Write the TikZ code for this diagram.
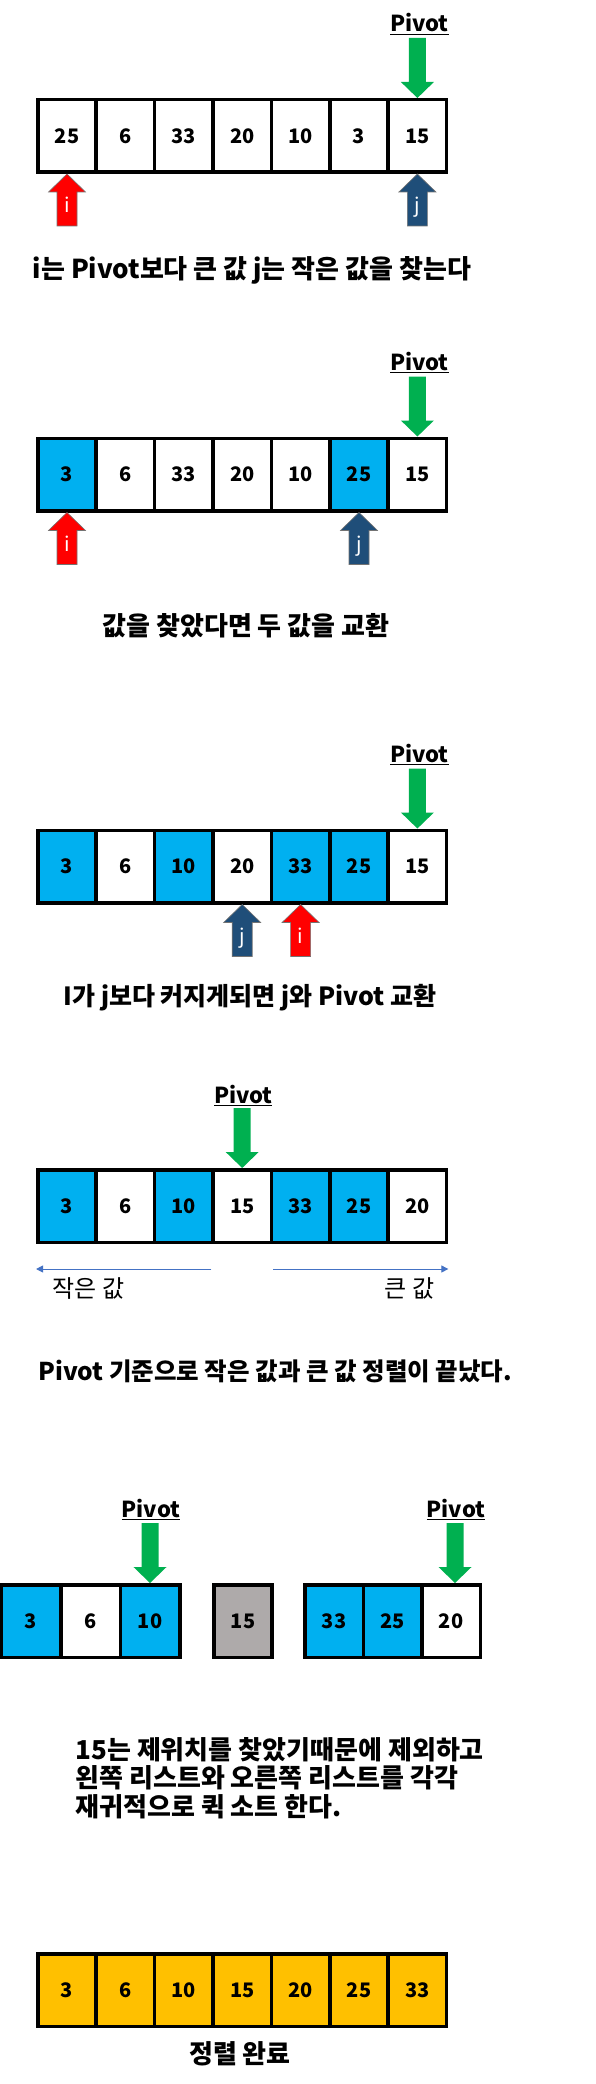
\documentclass[tikz,border=0pt]{standalone}
\usepackage{fontspec}
\setmainfont{Noto Sans CJK KR}
\usetikzlibrary{calc,arrows.meta}

\definecolor{cellblue}{HTML}{00B0F0}
\definecolor{pivgreen}{HTML}{00B050}
\definecolor{icol}{HTML}{FF0000}
\definecolor{jcol}{HTML}{1F4E79}
\definecolor{donegold}{HTML}{FFC000}
\definecolor{fixgray}{HTML}{AEAAAA}
\definecolor{lineblue}{HTML}{4472C4}

\tikzset{
  cell/.style={draw=black,line width=3.5pt,minimum width=58.4pt,minimum height=72.5pt,
    inner sep=0pt,font=\fontsize{20}{20}\selectfont\bfseries},
  wt/.style={cell,fill=white},
  hl/.style={cell,fill=cellblue},
  gd/.style={cell,fill=donegold},
  pivlabel/.style={anchor=base,font=\fontsize{22}{22}\selectfont\bfseries},
  caption/.style={anchor=base,font=\fontsize{26}{26}\selectfont\bfseries},
  sidelabel/.style={font=\fontsize{24}{24}\selectfont},
  thinarrow/.style={draw=lineblue,line width=1pt,-{Triangle[length=7pt,width=7pt]}},
  pics/pivdown/.style={code={
    \fill[pivgreen] (-8.5,-60) -- (8.5,-60) -- (8.5,-16) -- (16.5,-16) -- (0,0)
      -- (-16.5,-16) -- (-8.5,-16) -- cycle;}},
  pics/ptr/.style args={#1/#2}{code={
    \filldraw[draw=black!55,line width=0.6pt,fill=#1] (0,0) -- (18.5,18) -- (10,18)
      -- (10,52) -- (-10,52) -- (-10,18) -- (-18.5,18) -- cycle;
    \node[anchor=base,text=white,font=\fontsize{20}{20}\selectfont] at (0,39) {#2};}}
}

\begin{document}
\begin{tikzpicture}[x=1pt,y=-1pt]
  \fill[white] (0,0) rectangle (595,2084);
  \useasboundingbox (0,0) rectangle (595,2084);

  % step 1
  \foreach \v/\s [count=\k from 0] in {25/wt,6/wt,33/wt,20/wt,10/wt,3/wt,15/wt}
    \node[\s] (r1c\k) at (67+58.4*\k,136) {\v};
  \pic at (r1c6.north) {pivdown};
  \node[pivlabel] (p1) at ($(r1c6.north)+(2,-66)$) {\underline{Pivot}};
  \pic at (r1c0.south) {ptr={icol/i}};
  \pic at (r1c6.south) {ptr={jcol/j}};
  \node[caption] (t1) at (252,278) {i는 Pivot보다 큰 값 j는 작은 값을 찾는다};

  % step 2
  \foreach \v/\s [count=\k from 0] in {3/hl,6/wt,33/wt,20/wt,10/wt,25/hl,15/wt}
    \node[\s] (r2c\k) at (67+58.4*\k,474.5) {\v};
  \pic at (r2c6.north) {pivdown};
  \node[pivlabel] (p2) at ($(r2c6.north)+(2,-66)$) {\underline{Pivot}};
  \pic at (r2c0.south) {ptr={icol/i}};
  \pic at (r2c5.south) {ptr={jcol/j}};
  \node[caption] (t2) at (246,635) {값을 찾았다면 두 값을 교환};

  % step 3
  \foreach \v/\s [count=\k from 0] in {3/hl,6/wt,10/hl,20/wt,33/hl,25/hl,15/wt}
    \node[\s] (r3c\k) at (67+58.4*\k,866.5) {\v};
  \pic at (r3c6.north) {pivdown};
  \node[pivlabel] (p3) at ($(r3c6.north)+(2,-66)$) {\underline{Pivot}};
  \pic at (r3c3.south) {ptr={jcol/j}};
  \pic at (r3c4.south) {ptr={icol/i}};
  \node[caption,font=\fontsize{25}{25}\selectfont\bfseries] (t3) at (250,1005) {I가 j보다 커지게되면 j와 Pivot 교환};

  % step 4
  \foreach \v/\s [count=\k from 0] in {3/hl,6/wt,10/hl,15/wt,33/hl,25/hl,20/wt}
    \node[\s] (r4c\k) at (67+58.4*\k,1206) {\v};
  \pic at (r4c3.north) {pivdown};
  \node[pivlabel] (p4) at ($(r4c3.north)+(1,-65)$) {\underline{Pivot}};
  \draw[thinarrow] ($(r4c3.south west)+(0,25)$) -- ($(r4c0.south west)+(0,25)$);
  \draw[thinarrow] ($(r4c3.south east)+(0,25)$) -- ($(r4c6.south east)+(0,25)$);
  \node[sidelabel,anchor=base west] (small) at (49,1297) {작은 값};
  \node[sidelabel,anchor=base east] (big) at (438,1297) {큰 값};
  \node[caption,font=\fontsize{24.5}{24.5}\selectfont\bfseries,anchor=base west] (t4) at (35,1380) {Pivot 기준으로 작은 값과 큰 값 정렬이 끝났다.};

  % step 5
  \foreach \v/\s [count=\k from 0] in {3/hl,6/wt,10/hl}
    \node[\s,minimum width=59.5pt] (r5c\k) at (31+59.5*\k,1621) {\v};
  \node[cell,fill=fixgray] (r5c3) at (243,1621) {15};
  \foreach \v/\s [count=\k from 4] in {33/hl,25/hl,20/wt}
    \node[\s,minimum width=58.5pt] (r5c\k) at (334+58.5*\k-234,1621) {\v};
  \pic at (r5c2.north) {pivdown};
  \node[pivlabel] (p5) at ($(r5c2.north)+(1,-66)$) {\underline{Pivot}};
  \pic at ($(r5c6.north)+(4,0)$) {pivdown};
  \node[pivlabel] (p6) at ($(r5c6.north)+(5,-66)$) {\underline{Pivot}};
  \node[caption,anchor=base west] (t5a) at (72,1759) {15는 제위치를 찾았기때문에 제외하고};
  \node[caption,anchor=base west] (t5b) at (72,1787.5) {왼쪽 리스트와 오른쪽 리스트를 각각};
  \node[caption,anchor=base west] (t5c) at (72,1816) {재귀적으로 퀵 소트 한다.};

  % step 6
  \foreach \v [count=\k from 0] in {3,6,10,15,20,25,33}
    \node[gd] (r6c\k) at (67+58.4*\k,1990) {\v};
  \node[caption] (t6) at (240,2063) {정렬 완료};
\end{tikzpicture}
\end{document}
